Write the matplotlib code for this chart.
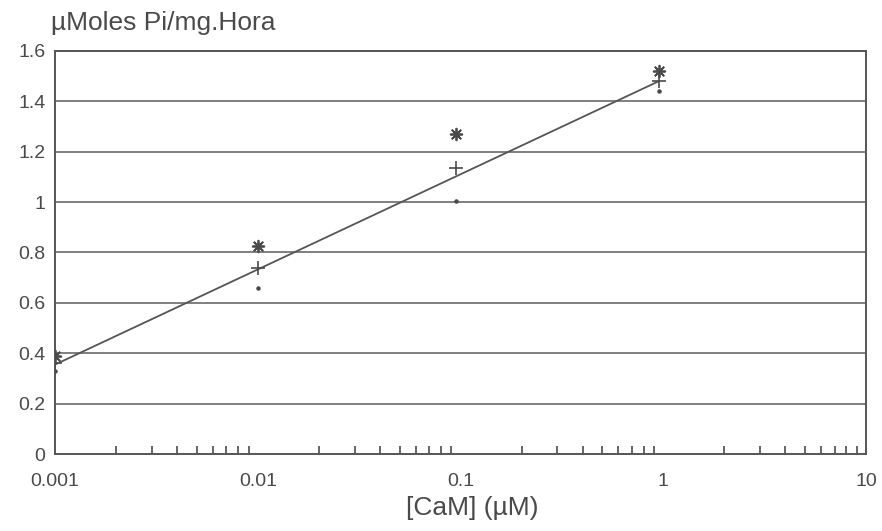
import numpy as np
import matplotlib
matplotlib.use("Agg")
import matplotlib.pyplot as plt
from matplotlib.ticker import LogLocator, FixedLocator, NullFormatter

plt.rcParams['font.family'] = ['Liberation Sans', 'DejaVu Sans']

# datos
cam = [0.001, 0.01, 0.095, 0.95]
star_vals = [0.39, 0.825, 1.27, 1.52]
plus_vals = [0.36, 0.74, 1.135, 1.48]
dot_vals = [0.33, 0.66, 1.005, 1.44]
fit_x = [0.001, 0.95]
fit_y = [0.355, 1.48]
yticks = [0, 0.2, 0.4, 0.6, 0.8, 1, 1.2, 1.4, 1.6]
ytick_labels = ['0', '0.2', '0.4', '0.6', '0.8', '1', '1.2', '1.4', '1.6']
xticks = [0.001, 0.01, 0.1, 1, 10]
xtick_labels = ['0.001', '0.01', '0.1', '1', '10']

c = '#4a4a4a'
fig = plt.figure(figsize=(8.82, 5.31), dpi=100)
ax = fig.add_axes([0.0624, 0.145, 0.9196, 0.759])

for y in yticks[1:]:
    ax.axhline(y, color='#6a6a6a', lw=1.2, zorder=1)

ax.plot(fit_x, fit_y, color='#555555', lw=1.3, zorder=2)
ax.scatter(cam, star_vals, marker=(8, 2, 0), s=70, color=c, lw=1.3, zorder=3)
ax.scatter(cam, plus_vals, marker='+', s=90, color=c, lw=1.2, zorder=3)
ax.scatter(cam, dot_vals, marker='o', s=5, color=c, zorder=3)

ax.set_xscale('log')
ax.set_xlim(0.001, 10)
ax.set_ylim(0, 1.6)
ax.set_yticks(yticks)
ax.set_yticklabels(ytick_labels)
ax.xaxis.set_major_locator(FixedLocator(xticks))
ax.set_xticklabels(xtick_labels)
ax.xaxis.set_minor_locator(LogLocator(base=10, subs=np.arange(2, 10)))
ax.xaxis.set_minor_formatter(NullFormatter())
ax.tick_params(axis='x', which='major', length=0, pad=14, labelsize=14, colors=c)
ax.tick_params(axis='x', which='minor', direction='in', length=6, width=1.2, color=c)
ax.tick_params(axis='y', length=0, pad=7, labelsize=14, colors=c)

for s in ax.spines.values():
    s.set_color('#555555')
    s.set_linewidth(1.4)

ax.set_xlabel('[CaM] (µM)', fontsize=19, color=c, labelpad=1)
ax.xaxis.set_label_coords(0.515, -0.105)
fig.text(0.058, 0.935, 'µMoles Pi/mg.Hora', fontsize=19, color=c, ha='left', va='bottom')

plt.savefig('out.png', dpi=100)
